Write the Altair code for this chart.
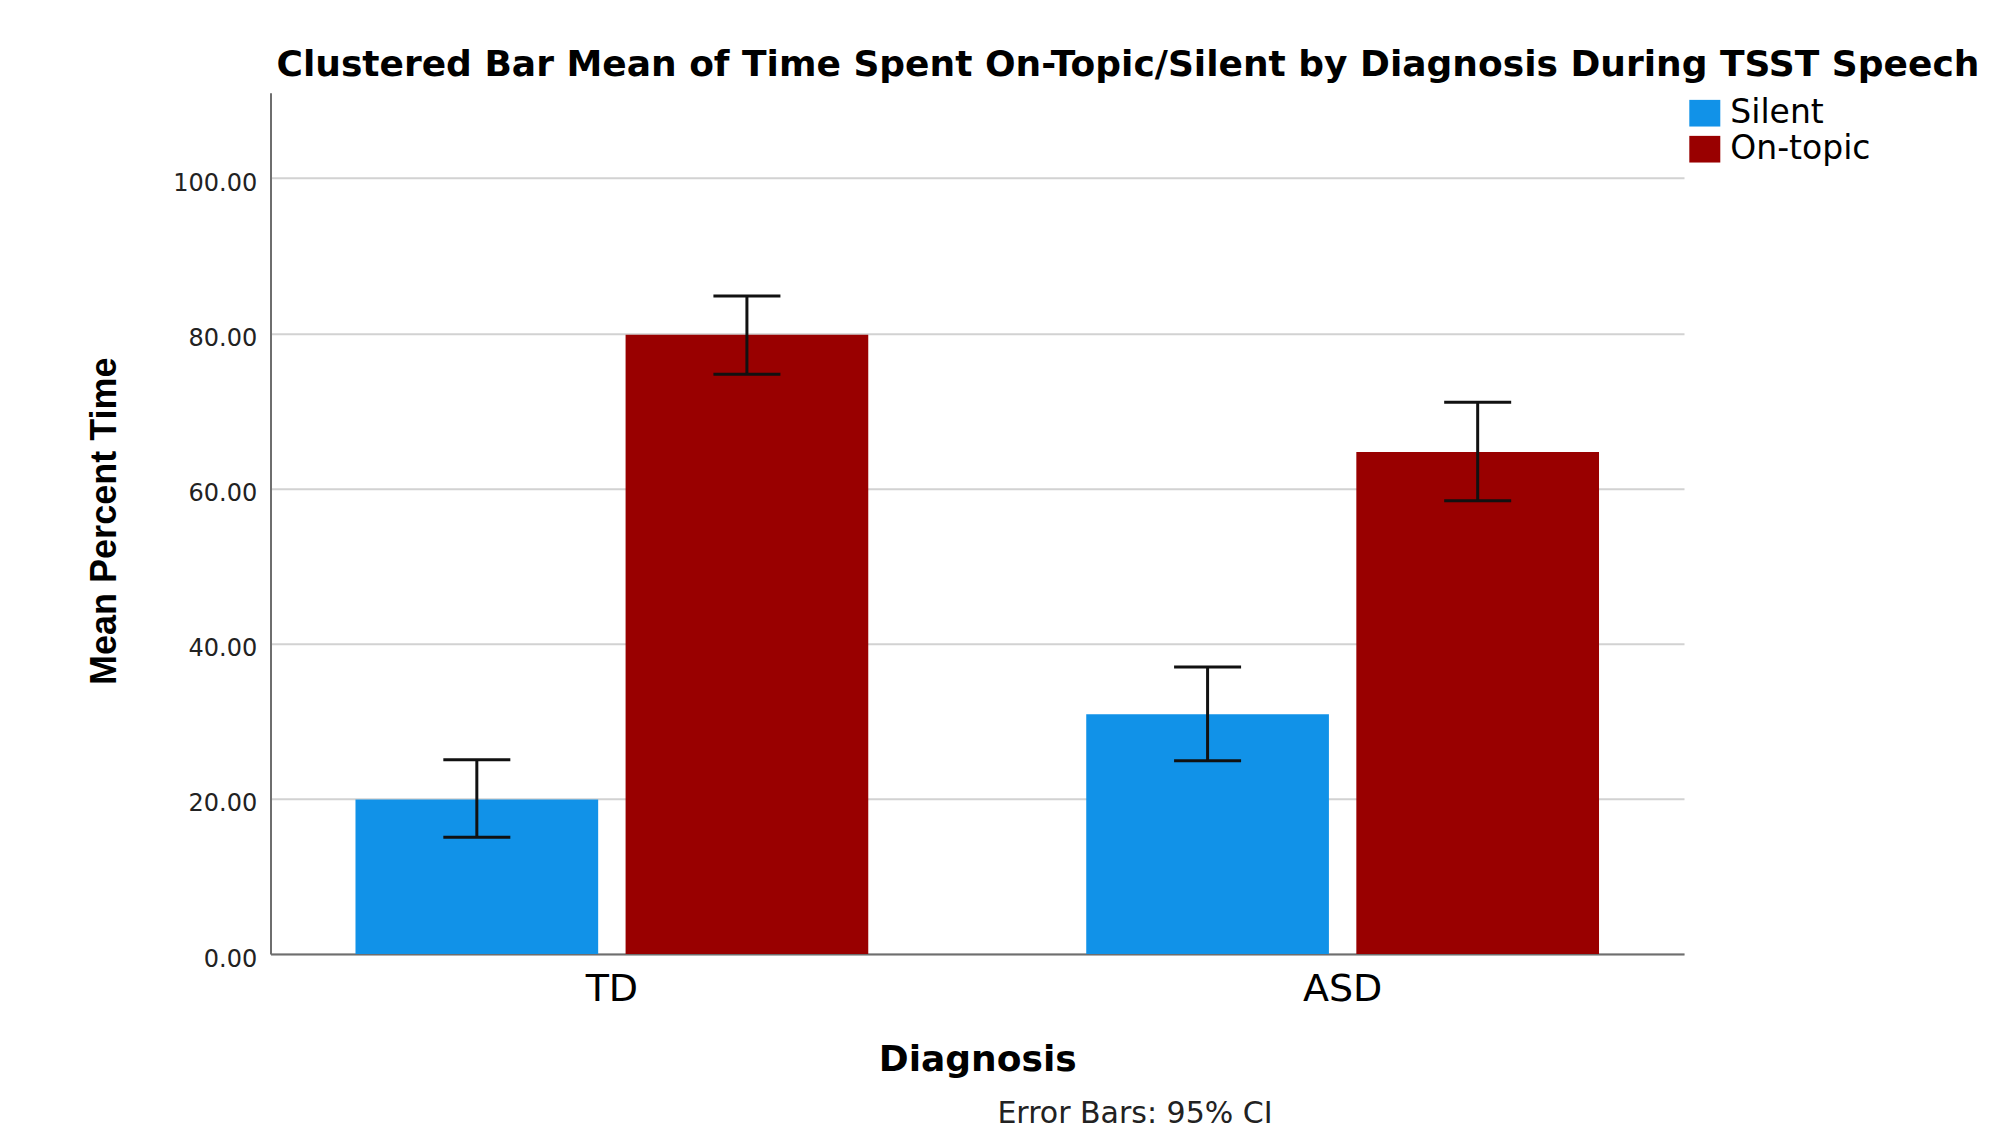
import altair as alt
import pandas as pd

# ---- data ----
diagnosis = ["TD", "TD", "ASD", "ASD"]
condition = ["Silent", "On-topic", "Silent", "On-topic"]
mean_pct = [19.9, 79.8, 30.9, 64.7]
ci_low = [15.05, 74.7, 24.9, 58.4]
ci_high = [25.05, 84.8, 37.0, 71.1]

diag_order = ["TD", "ASD"]
cond_order = ["Silent", "On-topic"]
cond_colors = ["#1192e8", "#990000"]
y_ticks = [0, 20, 40, 60, 80, 100]

title_text = "Clustered Bar Mean of Time Spent On-Topic/Silent by Diagnosis During TSST Speech"
footnote = ["Error Bars: 95% CI"]

df = pd.DataFrame({
    "Diagnosis": diagnosis,
    "Condition": condition,
    "Mean": mean_pct,
    "Low": ci_low,
    "High": ci_high,
})

W, H = 1413.5, 861.3

x_enc = alt.X(
    "Diagnosis:N",
    sort=diag_order,
    scale=alt.Scale(paddingInner=0.2983, paddingOuter=0.1163),
    axis=alt.Axis(
        title="Diagnosis",
        labelAngle=0,
        ticks=False,
        tickSize=0,
        labelFont="DejaVu Sans",
        labelFontSize=38,
        labelColor="#000000",
        labelBaseline="alphabetic",
        labelPadding=46.7,
        domainColor="#6e6e6e",
        domainWidth=2,
        titleFont="DejaVu Sans",
        titleFontWeight="bold",
        titleFontSize=36,
        titleColor="#000000",
        titleBaseline="alphabetic",
        titleY=116.7,
        titleX=W / 2,
        titleAlign="center",
    ),
)
xoff_enc = alt.XOffset(
    "Condition:N",
    sort=cond_order,
    scale=alt.Scale(paddingInner=0.1015, paddingOuter=0),
)
y_scale = alt.Scale(domain=[0, 111], nice=False, zero=True)

bars = alt.Chart(df).mark_bar().encode(
    x=x_enc,
    xOffset=xoff_enc,
    y=alt.Y(
        "Mean:Q",
        scale=y_scale,
        axis=alt.Axis(
            title="Mean Percent Time",
            values=y_ticks,
            format=".2f",
            grid=True,
            gridColor="#d2d2d2",
            gridWidth=2,
            ticks=False,
            tickSize=0,
            domainColor="#6e6e6e",
            domainWidth=2,
            labelFont="DejaVu Sans",
            labelFontSize=24,
            labelColor="#222222",
            labelPadding=13.8,
            labelBaseline="alphabetic",
            labelOffset=12,
            titleFont="Liberation Sans",
            titleFontWeight="bold",
            titleFontSize=36,
            titleColor="#000000",
            titleBaseline="alphabetic",
            titleAngle=270,
            titleX=-155,
            titleY=428,
            titleAlign="center",
        ),
    ),
    color=alt.Color(
        "Condition:N",
        sort=cond_order,
        scale=alt.Scale(domain=cond_order, range=cond_colors),
        title=None,
        legend=alt.Legend(
            orient="none",
            legendX=1417.8,
            legendY=4,
            padding=0,
            symbolType="M-1,-0.86H1V0.86H-1Z",
            symbolSize=961,
            symbolStrokeWidth=0,
            symbolOpacity=1,
            labelFont="DejaVu Sans",
            labelFontSize=33,
            labelColor="#000000",
            labelOffset=9,
            rowPadding=2,
        ),
    ),
)

err_rule = alt.Chart(df).mark_rule(color="#111111", strokeWidth=3).encode(
    x=alt.X("Diagnosis:N", sort=diag_order),
    xOffset=alt.XOffset("Condition:N", sort=cond_order),
    y=alt.Y("Low:Q", scale=y_scale),
    y2="High:Q",
)
cap_lo = alt.Chart(df).mark_tick(color="#111111", thickness=3, size=67, opacity=1).encode(
    x=alt.X("Diagnosis:N", sort=diag_order),
    xOffset=alt.XOffset("Condition:N", sort=cond_order),
    y=alt.Y("Low:Q", scale=y_scale),
)
cap_hi = alt.Chart(df).mark_tick(color="#111111", thickness=3, size=67, opacity=1).encode(
    x=alt.X("Diagnosis:N", sort=diag_order),
    xOffset=alt.XOffset("Condition:N", sort=cond_order),
    y=alt.Y("High:Q", scale=y_scale),
)

note = alt.Chart(pd.DataFrame({"note": footnote})).mark_text(
    font="DejaVu Sans", fontSize=30, color="#222222", align="center", baseline="alphabetic"
).encode(
    text="note:N",
    x=alt.value(864.5),
    y=alt.value(1030),
)

chart = alt.layer(bars, err_rule, cap_lo, cap_hi, note).properties(
    width=W,
    height=H,
    title=alt.TitleParams(
        text=title_text,
        anchor="start",
        frame="group",
        font="DejaVu Sans",
        fontSize=36,
        fontWeight="bold",
        color="#000000",
        baseline="alphabetic",
        dx=6,
        dy=29,
        offset=10,
    ),
    autosize=alt.AutoSizeParams(type="none"),
    padding={"left": 262.5, "top": 84.7, "right": 300, "bottom": 178},
).configure_view(strokeWidth=0)

chart.save("out.html", embed_options={"renderer": "svg", "actions": False})
